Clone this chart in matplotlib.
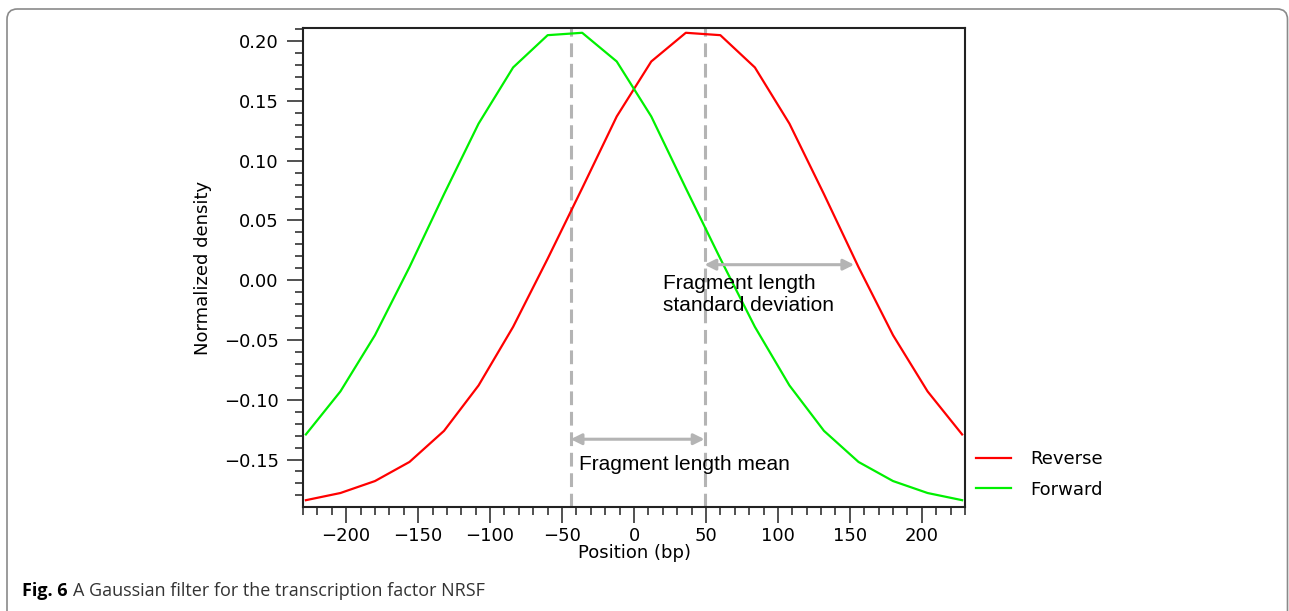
import matplotlib
matplotlib.use("Agg")
import matplotlib.pyplot as plt
from matplotlib.patches import FancyBboxPatch
from matplotlib.ticker import MultipleLocator, FuncFormatter

# filter profile sampled every 24 bp
positions = [-228, -204, -180, -156, -132, -108, -84, -60, -36, -12,
             12, 36, 60, 84, 108, 132, 156, 180, 204, 228]
forward = [-0.129, -0.093, -0.046, 0.011, 0.072, 0.131, 0.178, 0.205, 0.207, 0.183,
           0.137, 0.077, 0.018, -0.039, -0.088, -0.126, -0.152, -0.168, -0.178, -0.184]
reverse = [-0.184, -0.178, -0.168, -0.152, -0.126, -0.088, -0.039, 0.018, 0.077, 0.137,
           0.183, 0.207, 0.205, 0.178, 0.131, 0.072, 0.011, -0.046, -0.093, -0.129]

# fragment length markers (bp)
mean_lo, mean_hi = -44, 49
sd_end = 153

caption_bold = "Fig. 6"
caption_text = "A Gaussian filter for the transcription factor NRSF"

W, H = 1289, 611
fig = plt.figure(figsize=(W / 100, H / 100), dpi=100)

# panel frame, open at the bottom
frame = FancyBboxPatch((7 / W, -0.1), 1280.5 / W, 0.1 + 1 - 9 / H,
                       boxstyle="round,pad=0,rounding_size=0.008",
                       transform=fig.transFigure, fill=False,
                       edgecolor="#8a8a8a", linewidth=1.2, mutation_aspect=W / H)
fig.patches.append(frame)

ax = fig.add_axes([303 / W, 1 - 507 / H, 662 / W, 479 / H])
ax.plot(positions, reverse, color="#ff0000", lw=1.6, label="Reverse")
ax.plot(positions, forward, color="#00f000", lw=1.6, label="Forward")

ax.set_xlim(-230, 230)
ax.set_ylim(-0.1897, 0.211)

grey = "#b4b4b4"
for xv in (mean_lo, mean_hi):
    ax.axvline(xv, color=grey, lw=2.2, linestyle=(0, (4.5, 2.2)), zorder=1)

arrow = dict(arrowstyle="<|-|>", color=grey, lw=2.2, mutation_scale=16,
             shrinkA=0, shrinkB=0)
ax.annotate("", xy=(mean_lo, -0.133), xytext=(mean_hi, -0.133), arrowprops=arrow)
ax.annotate("", xy=(mean_hi, 0.013), xytext=(sd_end, 0.013), arrowprops=arrow)

ax.text(-38, -0.154, "Fragment length mean", family="Liberation Sans",
        fontsize=15, va="center", ha="left")
ax.text(20, -0.012, "Fragment length\nstandard deviation", family="Liberation Sans",
        fontsize=15, va="center", ha="left", linespacing=1.25)

for side in ("left", "bottom", "top", "right"):
    ax.spines[side].set_linewidth(1.5)
    ax.spines[side].set_color("#222222")

ax.xaxis.set_major_locator(MultipleLocator(50))
ax.xaxis.set_minor_locator(MultipleLocator(10))
ax.yaxis.set_major_locator(MultipleLocator(0.05))
ax.yaxis.set_minor_locator(MultipleLocator(0.01))
ax.yaxis.set_major_formatter(FuncFormatter(lambda v, p: f"{v:.2f}".replace("-", "\u2212")))
ax.tick_params(which="major", length=11.5, width=1.1, labelsize=13, color="#222222")
ax.tick_params(which="minor", length=5.8, width=1.1, color="#222222")
ax.tick_params(axis="y", which="major", pad=6)
ax.tick_params(axis="x", which="major", pad=3)

ax.set_xlabel("Position (bp)", fontsize=13)
ax.set_ylabel("Normalized density", fontsize=13)
ax.xaxis.set_label_coords(0.5, -0.077)
ax.yaxis.set_label_coords(-0.138, 0.5)

ax.legend(loc="center left", bbox_to_anchor=(1.0, 0.068), frameon=False,
          fontsize=13, handlelength=1.95, handletextpad=1.05, labelspacing=0.68,
          borderpad=0, borderaxespad=0.6)

t1 = fig.text(22 / W, 1 - 591 / H, caption_bold, family="Open Sans",
              fontweight="bold", fontsize=13, va="center")
fig.canvas.draw()
bb = t1.get_window_extent()
fig.text((bb.x1 + 5) / W, 1 - 591 / H, caption_text, family="Open Sans",
         fontsize=13, va="center", color="#333333")

fig.savefig("out.png", dpi=100)
